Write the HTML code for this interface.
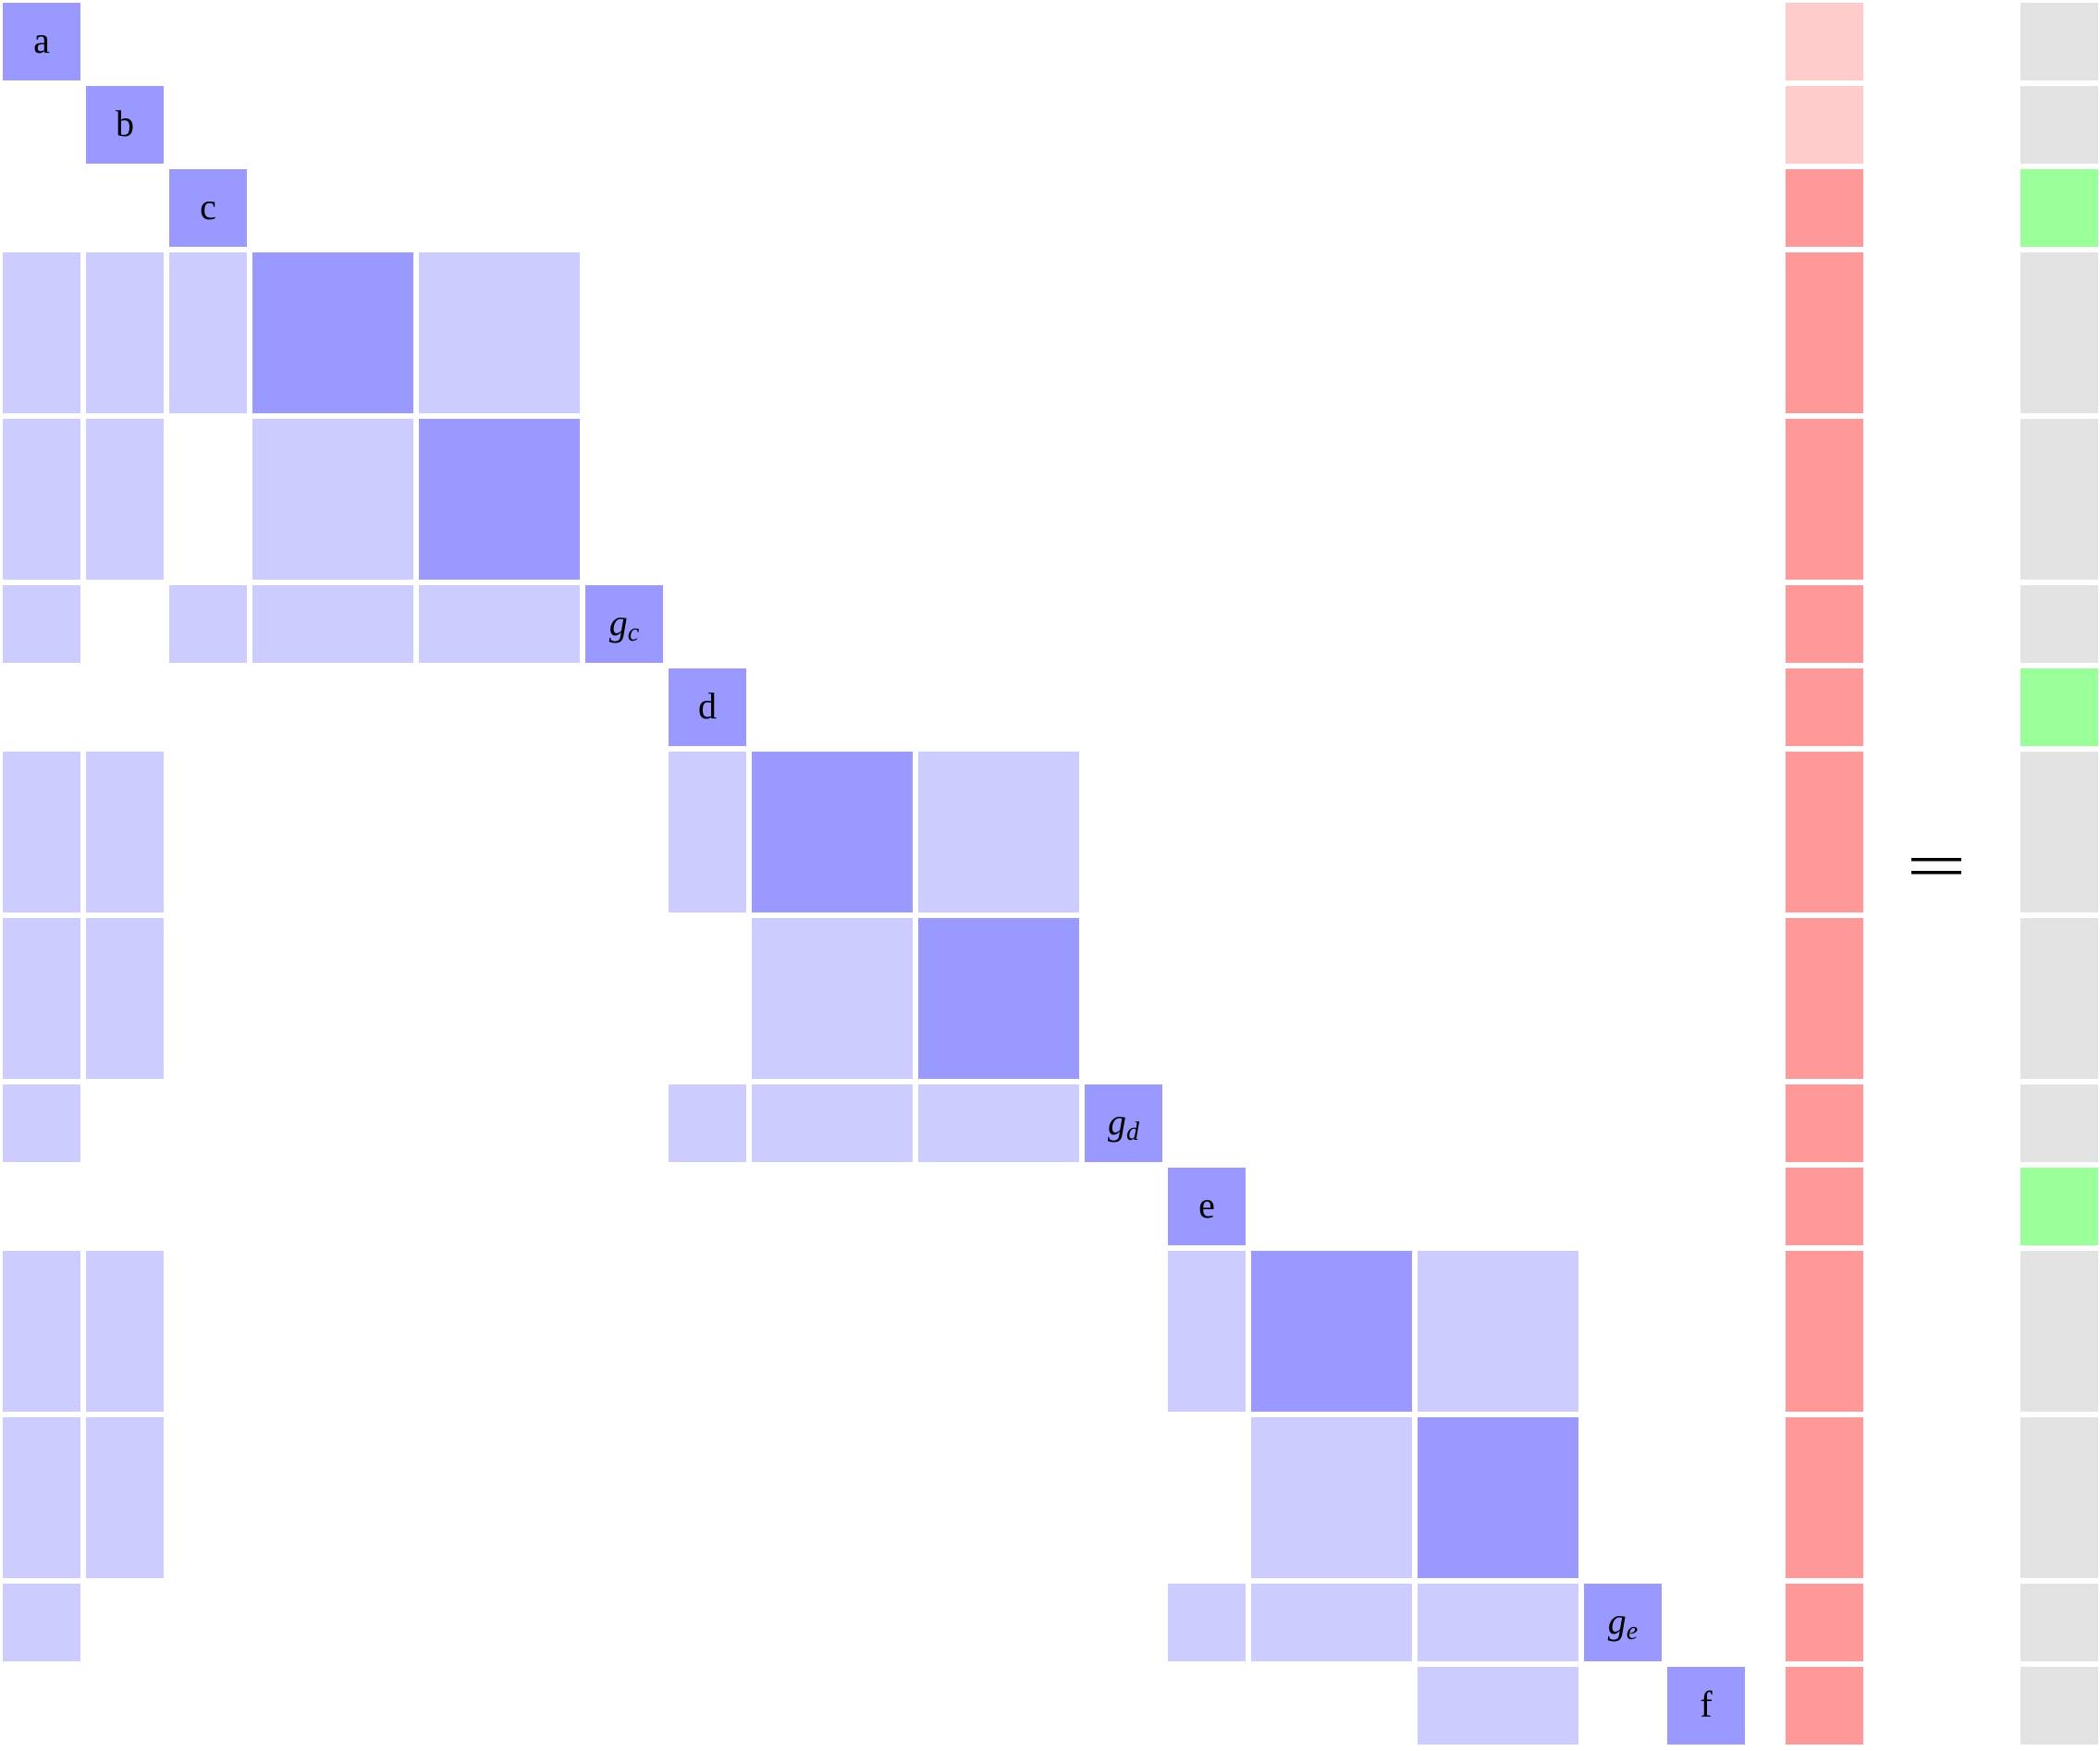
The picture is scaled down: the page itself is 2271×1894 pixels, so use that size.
<!DOCTYPE html>
<html><head><meta charset="utf-8"><style>
html,body{margin:0;padding:0;background:#fff;}
svg{display:block;}
</style></head><body>
<svg id="fig" xmlns="http://www.w3.org/2000/svg" width="2271" height="1894" viewBox="0 0 2271 1894">
<g id="cells"></g>
<g id="rhs"></g>
<g id="res"></g>
<g>
<rect x="2067" y="928" width="54" height="3.5" fill="#000"/>
<rect x="2067" y="942" width="54" height="3.5" fill="#000"/>
</g>
</svg>
<script>
// group start units and spans
const groupStart = [0,1,2,3,5,7,8,9,11,13,14,15,17,19,20];
const groupSpan  = [1,1,1,2,2,1,1,2,2,1,1,2,2,1,1];
// dark (diagonal) labels per group
const diagLabels = ["a","b","c","","","gc","d","","","gd","e","","","ge","f"];
// light off-diagonal cells: [row group, col group]
const lightCells = [
 [3,0],[3,1],[3,2],[3,4],
 [4,0],[4,1],[4,3],
 [5,0],[5,2],[5,3],[5,4],
 [7,0],[7,1],[7,6],[7,8],
 [8,0],[8,1],[8,7],
 [9,0],[9,6],[9,7],[9,8],
 [11,0],[11,1],[11,10],[11,12],
 [12,0],[12,1],[12,11],
 [13,0],[13,10],[13,11],[13,12],
 [14,12]
];
// left vector status per group: 0 light pink, 1 red
const vecState = [0,0,1,1,1,1,1,1,1,1,1,1,1,1,1];
// result vector status: 1 green, 0 gray
const resState = [0,0,1,0,0,0,1,0,0,0,1,0,0,0,0];

const NS="http://www.w3.org/2000/svg";
const P=90, G=6, O=3;
const pos = g => O + groupStart[g]*P;
const size = g => groupSpan[g]*P - G;
function rect(parent,x,y,w,h,fill){
  const r=document.createElementNS(NS,"rect");
  r.setAttribute("x",x);r.setAttribute("y",y);r.setAttribute("width",w);r.setAttribute("height",h);r.setAttribute("fill",fill);
  parent.appendChild(r);return r;
}
const cells=document.getElementById("cells");
lightCells.forEach(([r,c])=>{
  const el=rect(cells,pos(c),pos(r),size(c),size(r),"#ccccff");
  
  
});
groupStart.forEach((s,g)=>{
  const el=rect(cells,pos(g),pos(g),size(g),size(g),"#9999ff");
  
  
  const lab=diagLabels[g];
  if(lab){
    const t=document.createElementNS(NS,"text");
    t.setAttribute("x",pos(g)+size(g)/2);
    t.setAttribute("y",pos(g)+size(g)/2+12);
    t.setAttribute("text-anchor","middle");
    t.setAttribute("font-family","'Liberation Serif', serif");
    t.setAttribute("font-size","40");
    
    
    if(lab.length===2){
      t.setAttribute("font-style","italic");
      t.appendChild(document.createTextNode("g"));
      const sub=document.createElementNS(NS,"tspan");
      sub.setAttribute("font-size","28");sub.setAttribute("dy","6");
      sub.textContent=lab[1];
      t.appendChild(sub);
    } else t.textContent=lab;
    cells.appendChild(t);
  }
});
const rhs=document.getElementById("rhs"), res=document.getElementById("res");
groupStart.forEach((s,g)=>{
  const a=rect(rhs,1931,pos(g),84,size(g),vecState[g]?"#ff9999":"#ffcccc");
  
  
  const b=rect(res,2185,pos(g),84,size(g),resState[g]?"#99ff99":"#e3e3e3");
  
  
});
</script>
</body></html>
